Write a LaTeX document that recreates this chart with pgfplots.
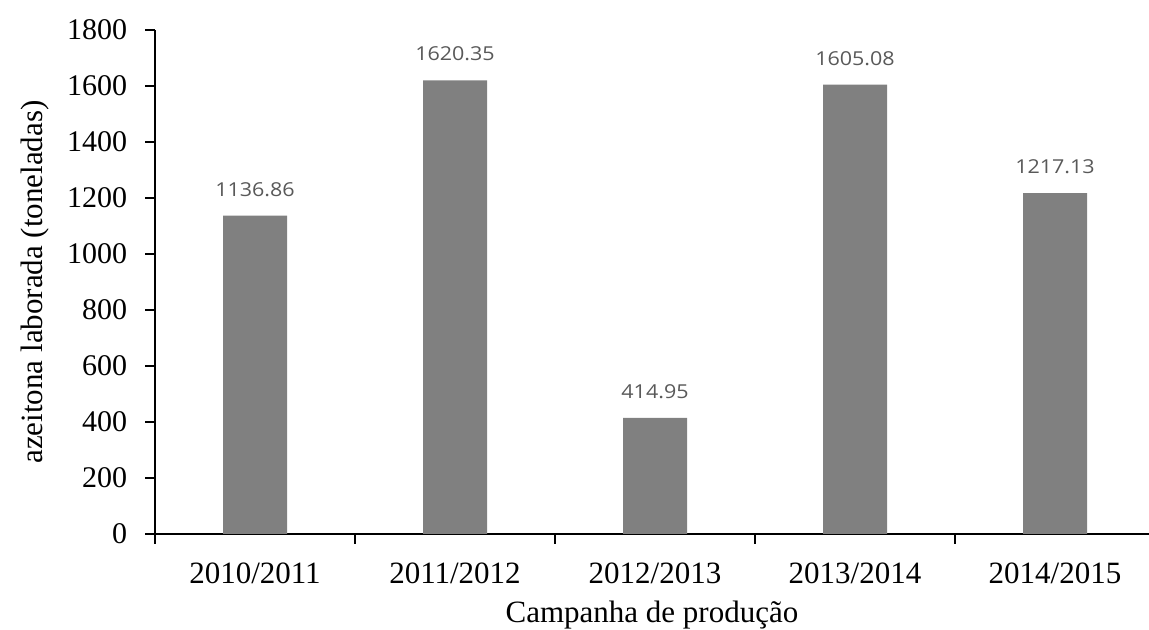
\documentclass[border=0pt]{standalone}
\usepackage{fontspec}
\setmainfont{Liberation Serif}
\newfontfamily\lblfont[FakeStretch=1.12]{Open Sans}
\usepackage{pgfplots}
\pgfplotsset{compat=1.18}
\definecolor{bargray}{RGB}{128,128,128}
\definecolor{lblgray}{RGB}{89,89,89}

\begin{document}
\begin{tikzpicture}
\path[use as bounding box] (0,0) rectangle (574.5pt,315pt);
\begin{axis}[
  at={(77.5pt,48pt)}, anchor=south west,
  scale only axis, width=497pt, height=252pt,
  xmin=-0.5, xmax=4.47, ymin=0, ymax=1800,
  axis lines*=left,
  axis line style={line width=0.6pt},
  every tick/.style={black, line width=0.6pt},
  tick align=outside,
  major tick length=5pt,
  minor tick length=5pt,
  xtick={0,1,2,3,4},
  xticklabels={2010/2011,2011/2012,2012/2013,2013/2014,2014/2015},
  major x tick style={draw=none},
  minor xtick={-0.5,0.5,1.5,2.5,3.5},
  ytick={0,200,...,1800},
  /pgf/number format/assume math mode=true,
  /pgf/number format/1000 sep={},
  yticklabel style={font=\fontsize{15}{18}\selectfont, anchor=east, inner ysep=0pt, inner xsep=8.8pt},
  xticklabel style={font=\fontsize{15.5}{18}\selectfont, inner sep=0pt, yshift=-9.4pt},
  xlabel={Campanha de produção},
  ylabel={azeitona laborada (toneladas)},
  label style={font=\fontsize{15.5}{19}\selectfont},
  xlabel style={at={(axis description cs:0.5,0)}, anchor=base, inner sep=0pt, yshift=-44.5pt},
  ylabel style={at={(axis description cs:-0.1127,0.5)}, anchor=base, inner sep=0pt},
  ybar, bar width=32pt,
  nodes near coords={\pgfmathprintnumber[fixed,precision=2,fixed zerofill,1000 sep={}]{\pgfplotspointmeta}},
  every node near coord/.append style={font=\lblfont\fontsize{9.6}{12}\selectfont, color=lblgray, anchor=south, inner sep=0pt, yshift=9.4pt},
]
\addplot[fill=bargray, draw=none] coordinates {
  (0,1136.86) (1,1620.35) (2,414.95) (3,1605.08) (4,1217.13)
};
\end{axis}
\end{tikzpicture}
\end{document}
